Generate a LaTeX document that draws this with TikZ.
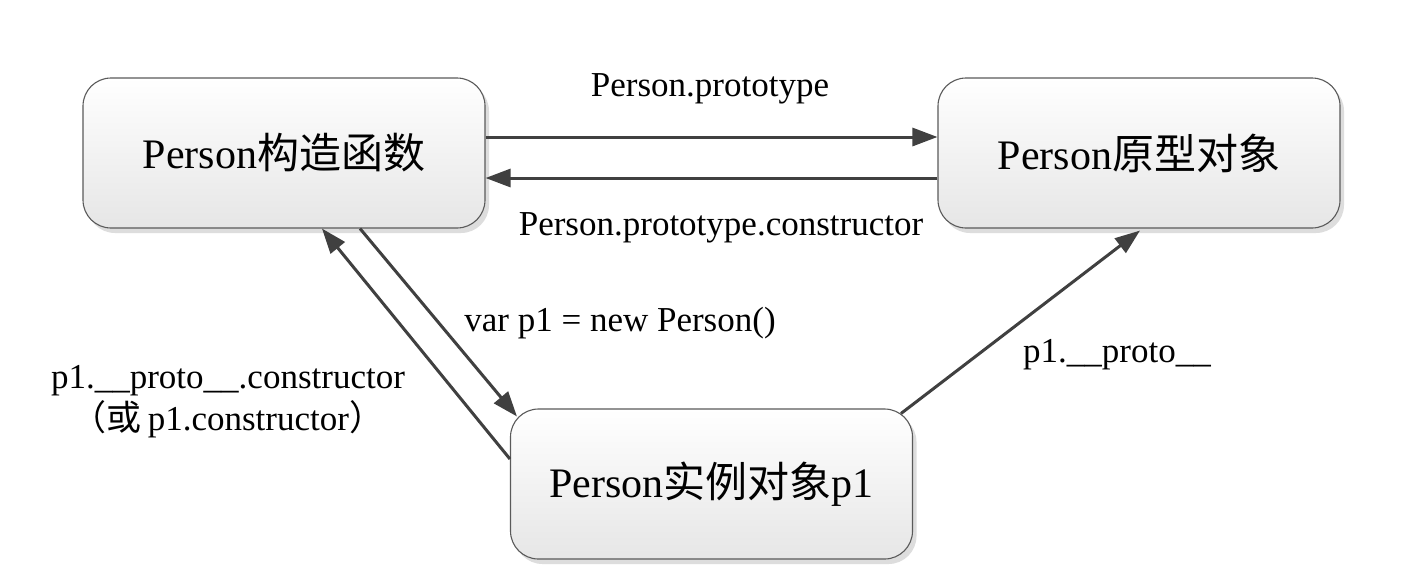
\documentclass[tikz,border=0pt]{standalone}
\usepackage{fontspec}
\setmainfont{Liberation Serif}
\newfontfamily\cjk{Noto Sans CJK SC}
\usetikzlibrary{arrows.meta,shadows,calc}
\definecolor{linegray}{HTML}{404040}
\definecolor{boxborder}{HTML}{5A5A5A}
\definecolor{boxbottom}{HTML}{E6E6E6}
\tikzset{
  objbox/.style={draw=boxborder, line width=1.1pt, rounded corners=28pt,
    top color=white, bottom color=boxbottom,
    minimum width=402pt, minimum height=150pt, inner sep=0pt,
    font=\fontsize{42}{50}\selectfont,
    drop shadow={shadow xshift=4pt, shadow yshift=-5pt, fill=black!22, opacity=0.6}},
  conn/.style={draw=linegray, line width=3pt,
    -{Triangle[length=25pt,width=18pt]}, color=linegray},
  lbl/.style={font=\fontsize{35}{42}\selectfont, anchor=base, inner sep=0pt}
}
\begin{document}
\begin{tikzpicture}[x=1pt,y=-1pt]
\useasboundingbox (0,0) rectangle (1412,582);
\fill[white] (0,0) rectangle (1412,582);
\node[objbox] (A) at (284,153) {Person{\cjk 构造函数}};
\node[objbox] (B) at (1139,153) {Person{\cjk 原型对象}};
\node[objbox] (C) at (711.5,484) {Person{\cjk 实例对象}p1};

\draw[conn] ([yshift=16pt]A.east) -- ([yshift=16pt]B.west);
\draw[conn] ([yshift=-25pt]B.west) -- ([yshift=-25pt]A.east);
\draw[conn] ([xshift=76pt]A.south) -- ([shift={(7pt,-8pt)}]C.north west);
\draw[conn] ([yshift=25pt]C.west) -- ([xshift=38pt]A.south);
\draw[conn] ([shift={(-12pt,-5pt)}]C.north east) -- ([shift={(1pt,-2pt)}]B.south);

\node[lbl] (l1) at (710,96) {Person.prototype};
\node[lbl] (l2) at (721,235) {Person.prototype.constructor};
\node[lbl] (l3) at (620,331) {var p1 = new Person()};
\node[lbl] (l4) at (1117,362) {p1.\_\_proto\_\_};
\node[lbl] (l5) at (228,388) {p1.\_\_proto\_\_.constructor};
\node[lbl] (l6) at (228,430) {{\cjk （或}\,p1.constructor{\cjk ）}};
\end{tikzpicture}
\end{document}
